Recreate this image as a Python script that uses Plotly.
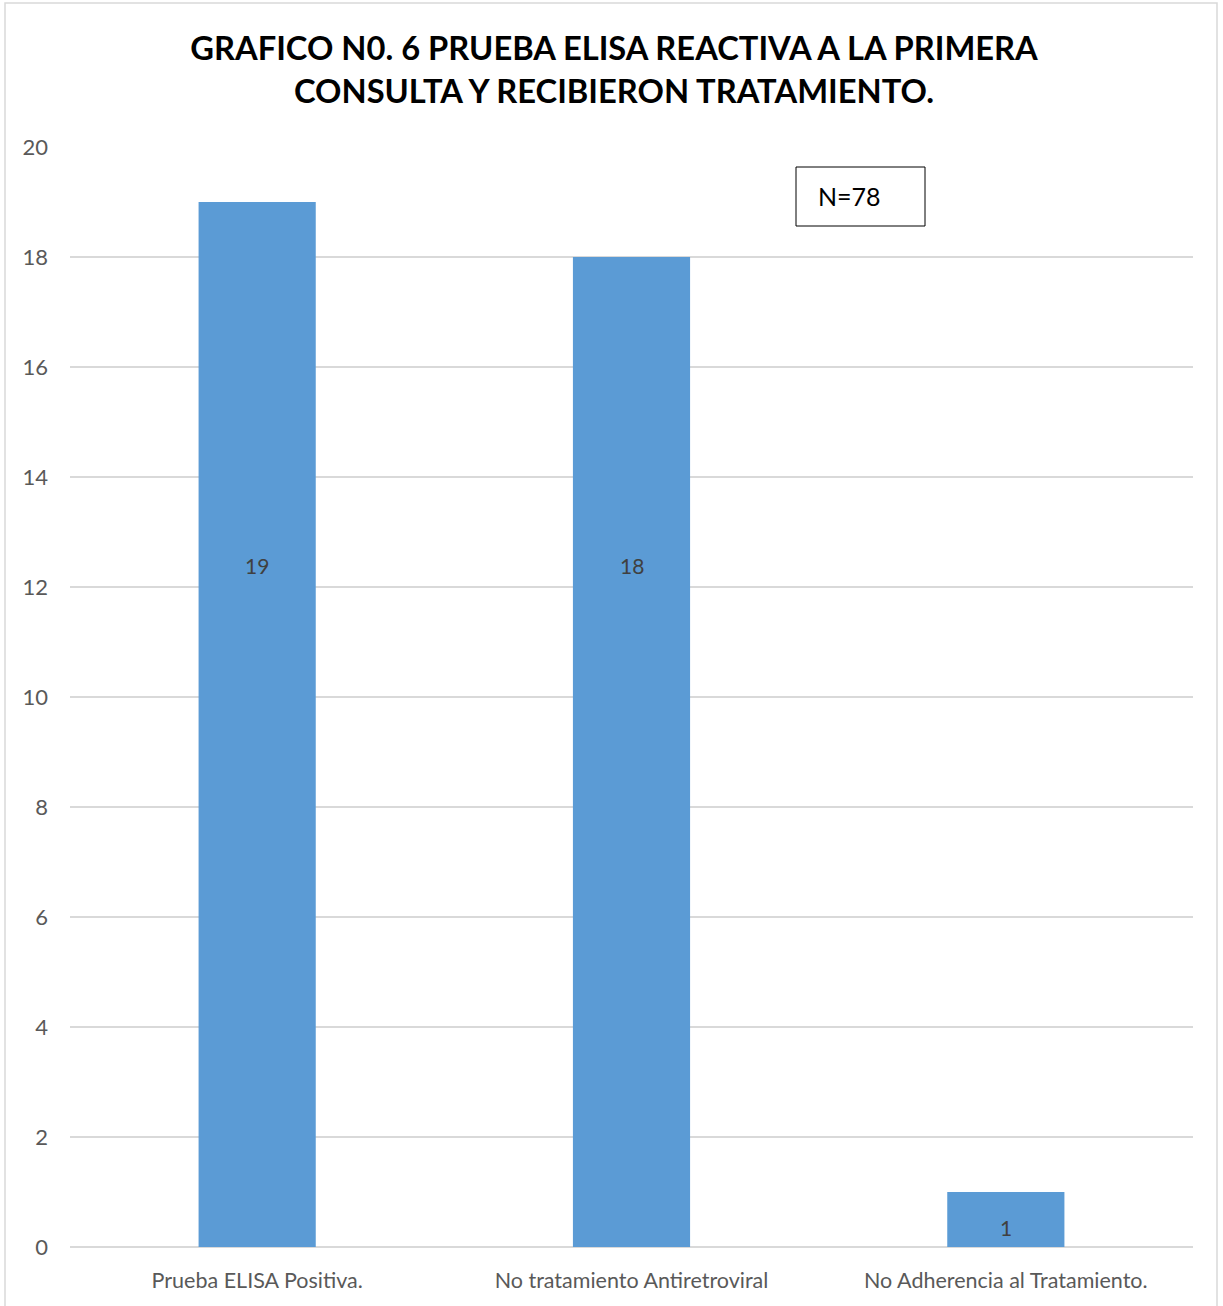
import plotly.graph_objects as go

categories = ["Prueba ELISA Positiva.", "No tratamiento Antiretroviral", "No Adherencia al Tratamiento."]
values = [19, 18, 1]
title_lines = ["GRAFICO N0. 6 PRUEBA ELISA REACTIVA A LA PRIMERA", "CONSULTA Y RECIBIERON TRATAMIENTO."]
note_text = "N=78"

W, H = 1223, 1306
L, R, T, B = 70, 1193, 147, 1247
pw, ph = R - L, B - T

def px(x):
    return (x - L) / pw

def py(y):
    return (B - y) / ph

FONT = "Lato"
fig = go.Figure(go.Bar(
    x=categories, y=values,
    marker=dict(color="#5b9bd5", line=dict(width=0)),
    width=0.313, hoverinfo="skip",
))

label_y = [12.4, 12.4, 0.35]
for c, v, ly in zip(categories, values, label_y):
    fig.add_annotation(x=c, y=ly, text=str(v), showarrow=False,
                       font=dict(family=FONT, size=21, color="#404040"))

# N box
fig.add_shape(type="rect", xref="paper", yref="paper", x0=px(796), x1=px(925), y0=py(226), y1=py(167),
              line=dict(color="#000000", width=1), fillcolor="white")
fig.add_annotation(xref="paper", yref="paper", x=px(816), y=py(196), xanchor="left", yanchor="middle",
                   text=note_text, showarrow=False,
                   font=dict(family=FONT, size=25, color="#000000"))

# outer chart border
fig.add_shape(type="rect", xref="paper", yref="paper", x0=px(5), x1=px(1217), y0=py(3), y1=py(1310),
              line=dict(color="#d9d9d9", width=1.5), fillcolor="rgba(0,0,0,0)", layer="below")

fig.update_layout(
    width=W, height=H,
    margin=dict(l=L, r=W - R, t=T, b=H - B),
    paper_bgcolor="white", plot_bgcolor="white",
    showlegend=False,
    title=dict(text="<br>".join(title_lines), x=614 / W, xref="container", xanchor="center",
               y=1 - 60 / H, yanchor="middle",
               font=dict(family=FONT, size=32.7, color="#000000", weight="bold")),
    xaxis=dict(showgrid=False, showline=False, ticks="", ticklabelstandoff=18,
               tickfont=dict(family=FONT, size=21.5, color="#595959")),
    yaxis=dict(range=[0, 20], dtick=2, showgrid=True, gridcolor="#d9d9d9", gridwidth=1.5,
               zeroline=True, zerolinecolor="#d9d9d9", zerolinewidth=1.5, showline=False, ticks="",
               ticklabelstandoff=21,
               tickfont=dict(family=FONT, size=22, color="#595959")),
    font=dict(family=FONT),
)

fig.write_html("out.html", config={"displayModeBar": False},
               post_script="document.body.style.margin='0';")
